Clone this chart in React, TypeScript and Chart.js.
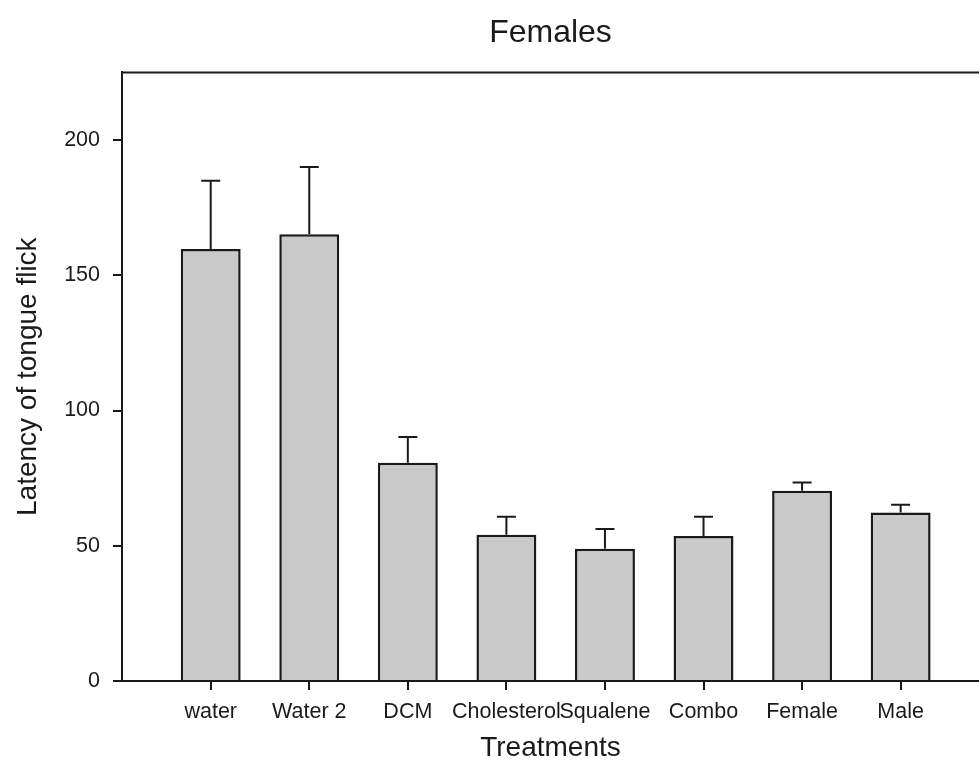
import React, { useEffect, useRef } from 'react';
import { Chart, registerables } from 'chart.js';

Chart.register(...registerables);

const categories = ['water', 'Water 2', 'DCM', 'Cholesterol', 'Squalene', 'Combo', 'Female', 'Male'];
const means = [159.7, 165.2, 80.7, 54.1, 48.9, 53.6, 70.3, 62.3];
const errors = [25.2, 24.8, 9.5, 6.6, 7.3, 7.1, 3.1, 2.9];
const yTicks = [0, 50, 100, 150, 200];

const INK = '#1a1a1a';
const FONT = '"Liberation Sans", Arial, sans-serif';

const errorBarPlugin = {
  id: 'errorBars',
  afterDatasetsDraw(chart: any) {
    const ctx = chart.ctx;
    const xs = chart.scales.x;
    const ys = chart.scales.y;
    ctx.save();
    ctx.strokeStyle = INK;
    ctx.lineWidth = 2;
    means.forEach((m, i) => {
      const x = xs.getPixelForValue(i);
      const y0 = ys.getPixelForValue(m);
      const y1 = ys.getPixelForValue(m + errors[i]);
      ctx.beginPath();
      ctx.moveTo(x, y0);
      ctx.lineTo(x, y1);
      ctx.moveTo(x - 9.5, y1);
      ctx.lineTo(x + 9.5, y1);
      ctx.stroke();
    });
    ctx.restore();
  },
};

const framePlugin = {
  id: 'frameTop',
  afterDraw(chart: any) {
    const { ctx, chartArea } = chart;
    ctx.save();
    ctx.strokeStyle = INK;
    ctx.lineWidth = 2;
    ctx.beginPath();
    ctx.moveTo(chartArea.left - 1, chartArea.top);
    ctx.lineTo(chartArea.right, chartArea.top);
    ctx.stroke();
    ctx.restore();
  },
};

export default function App() {
  const ref = useRef<HTMLCanvasElement | null>(null);

  useEffect(() => {
    if (!ref.current) return;
    const chart = new Chart(ref.current, {
      type: 'bar',
      data: {
        datasets: [
          {
            data: means.map((v, i) => ({ x: i, y: v })),
            backgroundColor: '#c9c9c9',
            borderColor: INK,
            borderWidth: 2.5,
            barPercentage: 0.608,
            categoryPercentage: 1,
          } as any,
        ],
      },
      options: {
        responsive: false,
        animation: false,
        events: [],
        layout: { padding: 0 },
        plugins: {
          legend: { display: false },
          tooltip: { enabled: false },
          title: {
            display: true,
            text: 'Females',
            fullSize: false,
            color: INK,
            font: { family: FONT, size: 32, weight: 'normal' },
            padding: { top: 14, bottom: 20 },
          },
        },
        scales: {
          x: {
            type: 'linear',
            offset: false,
            min: -0.9,
            max: 7.795,
            afterBuildTicks: (s: any) => {
              s.ticks = categories.map((_, i) => ({ value: i }));
            },
            afterFit: (s: any) => {
              s.height = 91;
            },
            grid: {
              display: true,
              offset: false,
              drawOnChartArea: false,
              drawTicks: true,
              tickLength: 9,
              color: INK,
              lineWidth: 2,
            },
            border: { display: true, color: INK, width: 2 },
            ticks: {
              autoSkip: false,
              maxRotation: 0,
              minRotation: 0,
              padding: 9,
              color: INK,
              font: { family: FONT, size: 21.5 },
              callback: (v: any) => categories[v as number] ?? '',
            },
            title: {
              display: true,
              text: 'Treatments',
              color: INK,
              font: { family: FONT, size: 28 },
              padding: { top: 0, bottom: 7 },
            },
          },
          y: {
            type: 'linear',
            min: 0,
            max: 225,
            afterBuildTicks: (s: any) => {
              s.ticks = yTicks.map((v) => ({ value: v }));
            },
            afterFit: (s: any) => {
              s.width = 122;
            },
            grid: {
              display: true,
              drawOnChartArea: false,
              drawTicks: true,
              tickLength: 9,
              color: INK,
              lineWidth: 2,
            },
            border: { display: true, color: INK, width: 2 },
            ticks: {
              padding: 13,
              color: INK,
              font: { family: FONT, size: 21.5 },
            },
            title: {
              display: true,
              text: 'Latency of tongue flick',
              color: INK,
              font: { family: FONT, size: 28 },
              padding: { top: 11, bottom: 0 },
            },
          },
        },
      } as any,
      plugins: [errorBarPlugin, framePlugin],
    });
    return () => chart.destroy();
  }, []);

  return (
    <div style={{ position: 'fixed', left: 0, top: 0, width: 979, height: 772, background: '#fff' }}>
      <canvas ref={ref} width={979} height={772} style={{ display: 'block' }} />
    </div>
  );
}
